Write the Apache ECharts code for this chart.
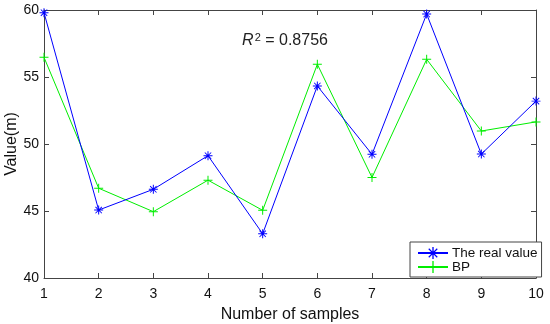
<!DOCTYPE html>
<html><head><meta charset="utf-8">
<script src="https://cdn.jsdelivr.net/npm/echarts@6/dist/echarts.min.js"></script>
<style>html,body{margin:0;padding:0;background:#fff}#c{width:550px;height:324px}</style>
</head><body><div id="c"></div>
<script>
const categories = ['1','2','3','4','5','6','7','8','9','10'];
const realValue = [59.8, 45.07, 46.62, 49.13, 43.3, 54.33, 49.23, 59.7, 49.25, 53.2];
const bpValue = [56.47, 46.7, 44.95, 47.3, 45.05, 55.95, 47.5, 56.32, 50.97, 51.65];
const yTicks = [40, 45, 50, 55, 60];
const r2Text = '0.8756';

const plusPath = 'path://M4.45,0h1.1v10h-1.1z M0,4.45h10v1.1h-10z';
const starPath = 'path://M4.45,0h1.1v10h-1.1z M0,4.45h10v1.1h-10z M1.1,1.8l0.7,-0.7l7.1,7.1l-0.7,0.7z M8.2,1.1l0.7,0.7l-7.1,7.1l-0.7,-0.7z';
const font = 'Liberation Sans, Arial, sans-serif';
const axisCol = '#444';

const chart = echarts.init(document.getElementById('c'), null, {renderer: 'canvas'});
chart.setOption({
  animation: false,
  backgroundColor: '#fff',
  grid: {left: 44, right: 14, top: 10, bottom: 46, show: false, containLabel: false, outerBoundsMode: 'none'},
  title: {
    text: '{i|R}{s|2} = ' + r2Text,
    left: 280, top: 27, textAlign: 'center',
    textStyle: {
      fontFamily: font, fontSize: 16, fontWeight: 'normal', color: '#222',
      rich: {
        i: {fontStyle: 'italic', fontFamily: font, fontSize: 16, color: '#222'},
        s: {fontFamily: font, fontSize: 11, color: '#222', verticalAlign: 'top', padding: [0,0,7,1]}
      }
    }
  },
  legend: {
    orient: 'vertical', left: 410, top: 242,
    backgroundColor: '#fff', borderColor: axisCol, borderWidth: 1, borderRadius: 0,
    padding: [4, 4, 3, 7], itemGap: 0, itemWidth: 30, itemHeight: 15,
    textStyle: {fontFamily: font, fontSize: 13.5, color: '#111', padding: [0, 0, 0, -1]},
    data: ['The real value', 'BP']
  },
  xAxis: [{
    type: 'category', data: categories, boundaryGap: false,
    name: 'Number of samples', nameLocation: 'middle', nameGap: 29, nameMoveOverlap: false,
    nameTextStyle: {fontFamily: font, fontSize: 16, color: '#111'},
    axisLine: {lineStyle: {color: axisCol, width: 1}},
    axisTick: {inside: true, length: 5, lineStyle: {color: axisCol}},
    axisLabel: {fontFamily: font, fontSize: 14, color: '#111', margin: 9},
    splitLine: {show: false}
  }, {
    type: 'category', data: categories, boundaryGap: false, position: 'top',
    axisLine: {lineStyle: {color: axisCol, width: 1}},
    axisTick: {inside: true, length: 5, lineStyle: {color: axisCol}},
    axisLabel: {show: false}
  }],
  yAxis: [{
    type: 'value', min: yTicks[0], max: yTicks[yTicks.length-1], interval: 5,
    name: 'Value(m)', nameLocation: 'middle', nameGap: 24, nameMoveOverlap: false,
    nameTextStyle: {fontFamily: font, fontSize: 16, color: '#111'},
    axisLine: {show: true, lineStyle: {color: axisCol, width: 1}},
    axisTick: {show: true, inside: true, length: 5, lineStyle: {color: axisCol}},
    axisLabel: {fontFamily: font, fontSize: 14, color: '#111', margin: 5},
    splitLine: {show: false}
  }, {
    type: 'value', min: yTicks[0], max: yTicks[yTicks.length-1], interval: 5, position: 'right',
    axisLine: {show: true, lineStyle: {color: axisCol, width: 1}},
    axisTick: {show: true, inside: true, length: 5, lineStyle: {color: axisCol}},
    axisLabel: {show: false}, splitLine: {show: false}
  }],
  series: [{
    name: 'The real value', type: 'line', data: realValue,
    symbol: starPath, symbolSize: 9, showAllSymbol: true,
    lineStyle: {color: '#0000ff', width: 1},
    itemStyle: {color: '#0000ff'}, z: 3
  }, {
    name: 'BP', type: 'line', data: bpValue,
    symbol: plusPath, symbolSize: 9, showAllSymbol: true,
    lineStyle: {color: '#00ee00', width: 1},
    itemStyle: {color: '#00ee00'}, z: 2
  }]
});
</script></body></html>
